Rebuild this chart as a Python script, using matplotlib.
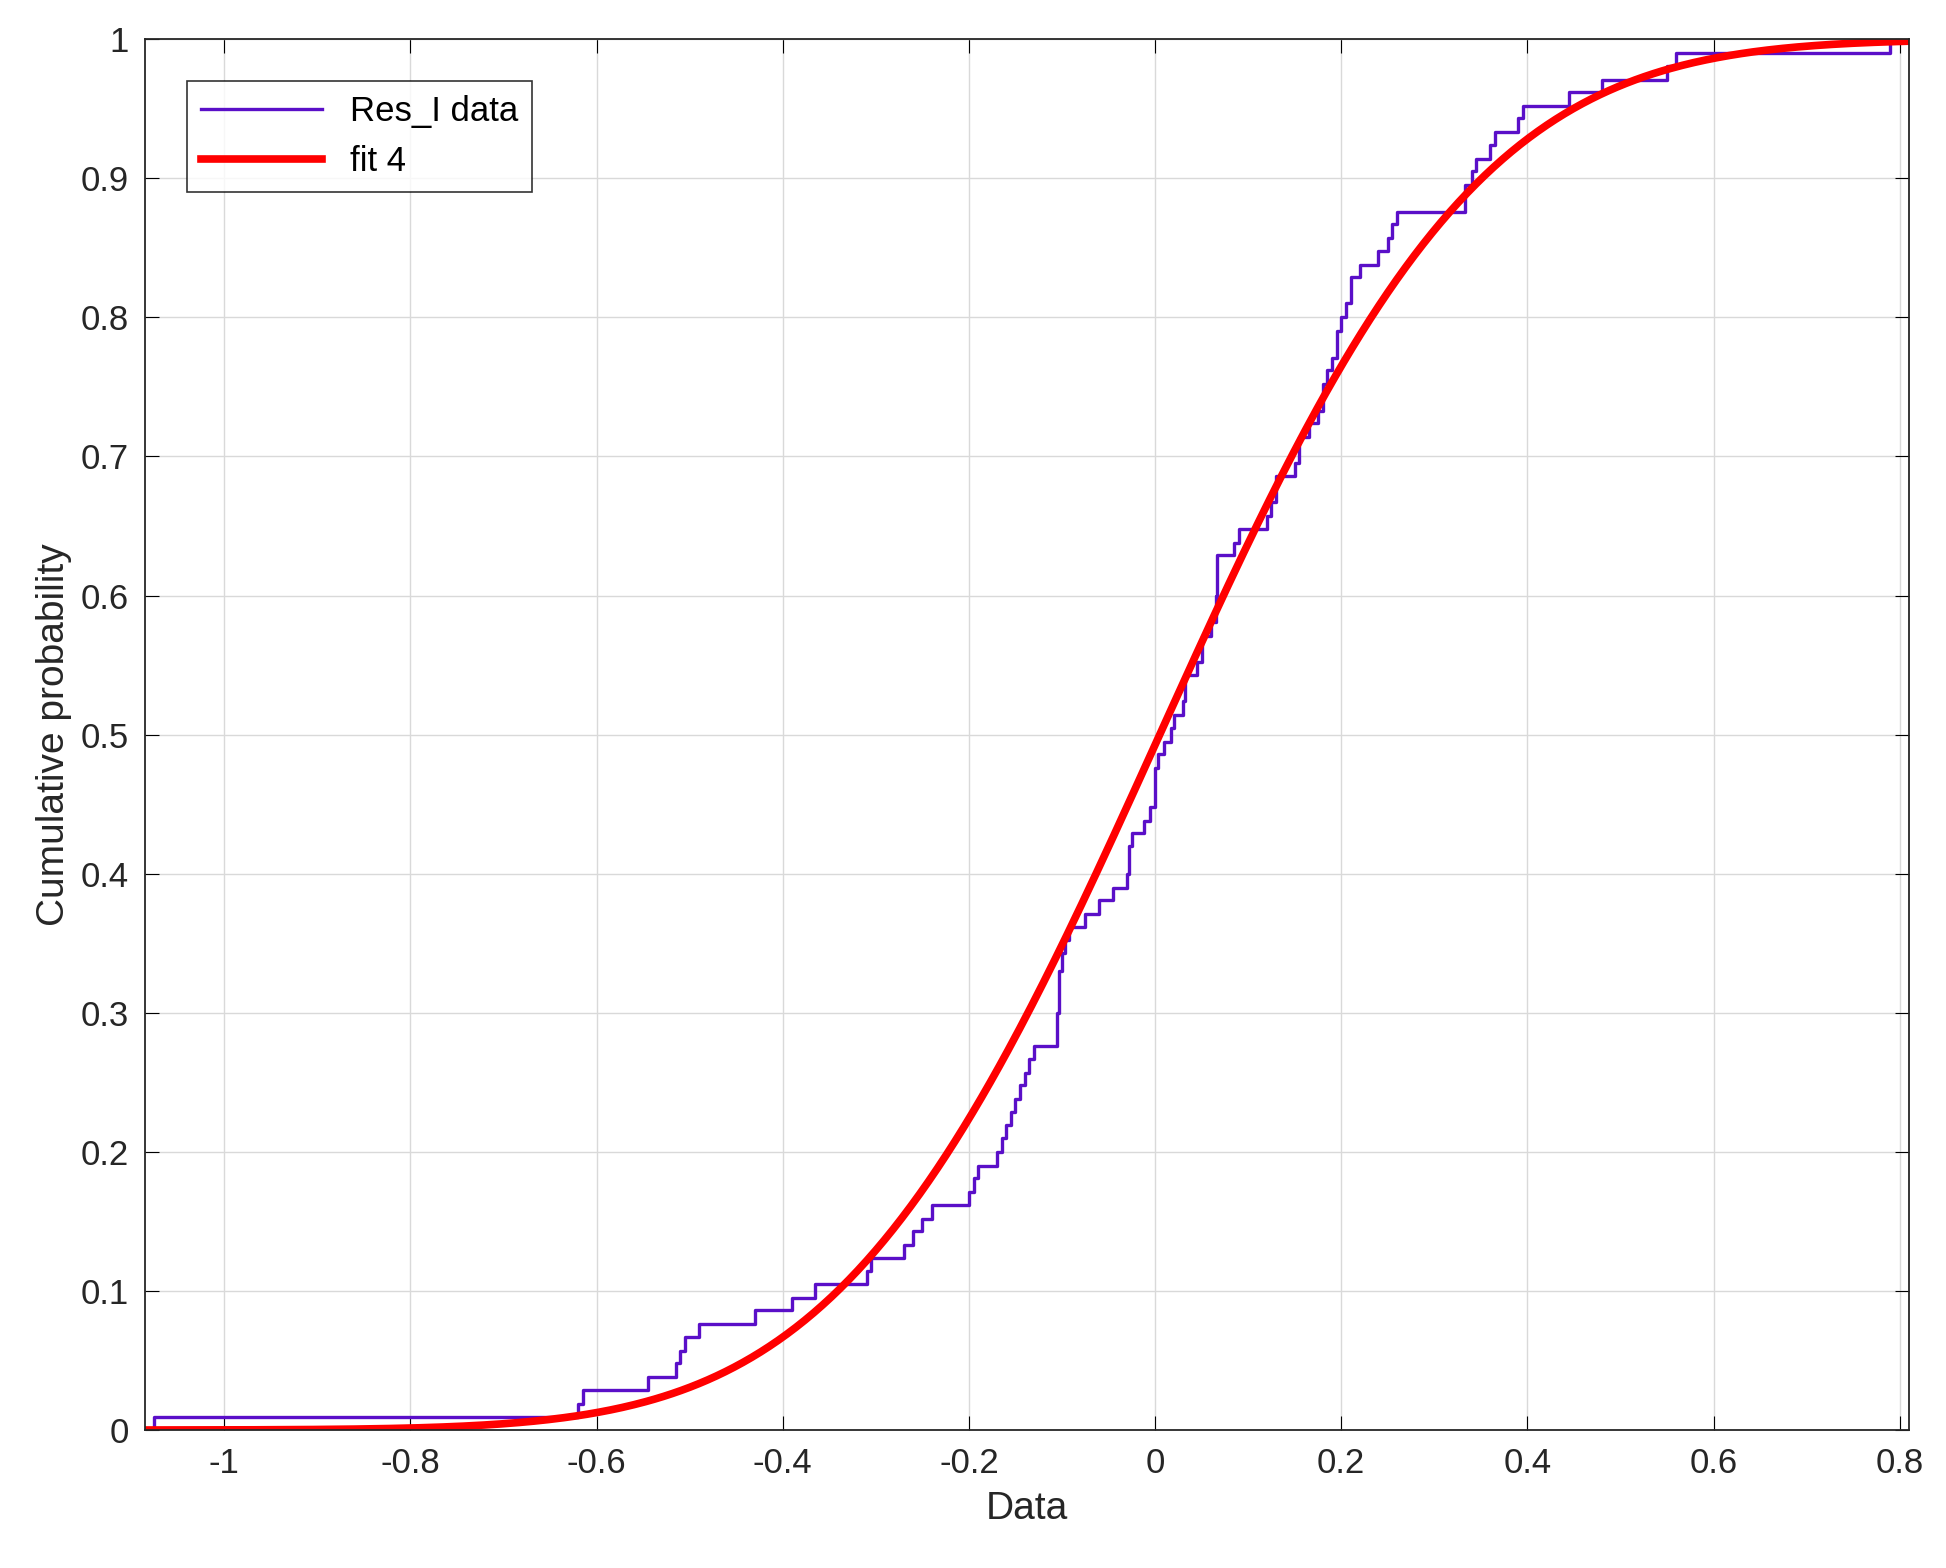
import numpy as np
import matplotlib.pyplot as plt
from math import erf, sqrt

# empirical CDF of Res_I: step positions and the level reached after each step
ecdf_x = [-1.075, -0.62, -0.615, -0.545, -0.515, -0.51, -0.505, -0.49, -0.43, -0.39, -0.365,
          -0.31, -0.305, -0.27, -0.26, -0.25, -0.24, -0.2, -0.195, -0.19,
          -0.17, -0.165, -0.16, -0.155, -0.15, -0.145, -0.14, -0.135, -0.13,
          -0.105, -0.103, -0.1, -0.097, -0.092, -0.075, -0.06, -0.045,
          -0.03, -0.028, -0.025, -0.012, -0.005, 0.0, 0.003, 0.01, 0.017, 0.02, 0.03, 0.032,
          0.045, 0.05, 0.06, 0.065, 0.067, 0.085, 0.09, 0.12, 0.125, 0.13, 0.15, 0.155,
          0.165, 0.175, 0.18, 0.185, 0.19, 0.195, 0.2, 0.205, 0.21, 0.22, 0.24, 0.25,
          0.255, 0.26, 0.333, 0.34, 0.345, 0.36, 0.365, 0.39, 0.395, 0.445, 0.48,
          0.55, 0.56, 0.79]
ecdf_y = [0.0095, 0.019, 0.029, 0.038, 0.048, 0.057, 0.067, 0.076, 0.086, 0.095, 0.105,
          0.114, 0.124, 0.133, 0.143, 0.152, 0.162, 0.171, 0.181, 0.19,
          0.2, 0.21, 0.219, 0.229, 0.238, 0.248, 0.257, 0.267, 0.276,
          0.30, 0.33, 0.343, 0.352, 0.362, 0.371, 0.381, 0.39,
          0.40, 0.42, 0.429, 0.438, 0.448, 0.476, 0.486, 0.495, 0.505, 0.514, 0.524, 0.543,
          0.552, 0.571, 0.581, 0.60, 0.629, 0.638, 0.648, 0.657, 0.667, 0.686, 0.695, 0.714,
          0.724, 0.733, 0.752, 0.762, 0.771, 0.79, 0.80, 0.81, 0.829, 0.838, 0.848, 0.857,
          0.867, 0.876, 0.895, 0.905, 0.914, 0.924, 0.933, 0.943, 0.952, 0.962, 0.971,
          0.981, 0.99, 1.0]
# fitted normal CDF parameters
fit_mu = 0.005
fit_sigma = 0.27

plt.rcParams['font.family'] = ['Liberation Sans', 'DejaVu Sans']
fig = plt.figure(figsize=(19.46, 15.68), dpi=100)
ax = fig.add_axes([0.0746, 0.088, 0.9064, 0.887])

x_step = np.concatenate([[-1.085], ecdf_x, [0.81]])
y_step = np.concatenate([[0], ecdf_y, [1]])
ax.step(x_step, y_step, where='post', color='#5a0fc8', lw=2.4, label='Res_I data')

xf = np.linspace(-1.085, 0.81, 600)
yf = [0.5 * (1 + erf((v - fit_mu) / (fit_sigma * sqrt(2)))) for v in xf]
ax.plot(xf, yf, color='red', lw=5.5, label='fit 4')

ax.set_xlim(-1.085, 0.81)
ax.set_ylim(0, 1)
ax.set_xticks(np.arange(-1, 0.81, 0.2))
ax.set_xticklabels(['-1', '-0.8', '-0.6', '-0.4', '-0.2', '0', '0.2', '0.4', '0.6', '0.8'])
ax.set_yticks(np.arange(0, 1.01, 0.1))
ax.set_yticklabels(['0', '0.1', '0.2', '0.3', '0.4', '0.5', '0.6', '0.7', '0.8', '0.9', '1'])
ax.grid(True, color='#d9d9d9', lw=1)
ax.tick_params(direction='in', length=10, labelsize=25, labelcolor='#262626',
               top=True, right=True, pad=12)
for s in ax.spines.values():
    s.set_color('#262626')
    s.set_linewidth(1.3)
ax.set_xlabel('Data', fontsize=28, color='#262626', labelpad=8)
ax.set_ylabel('Cumulative probability', fontsize=28, color='#262626', labelpad=6)
leg = ax.legend(loc='upper left', fontsize=25, fancybox=False, edgecolor='black',
                handlelength=3.5, borderaxespad=1.2)
leg.get_frame().set_linewidth(1.2)

fig.savefig('out.png')
